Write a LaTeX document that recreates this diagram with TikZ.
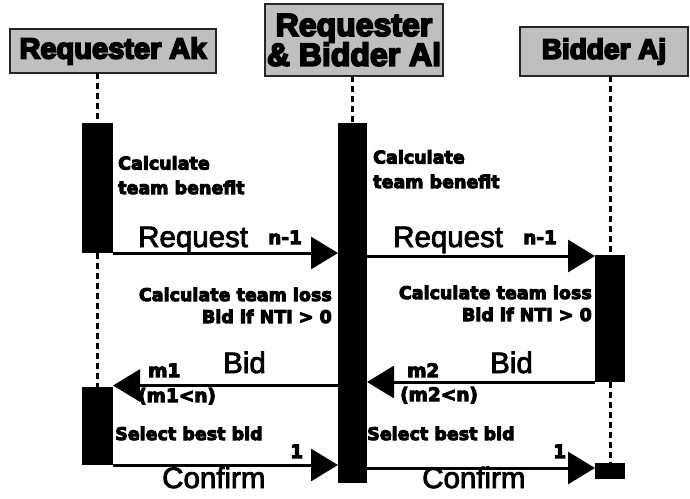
\documentclass[tikz,border=0pt]{standalone}
\usepackage{fontspec}
\setmainfont{Liberation Sans}
\newfontfamily\headfont{Liberation Sans Bold}
\newfontfamily\notefont{DejaVu Sans Bold}
\usetikzlibrary{arrows.meta}

% heavier glyphs: fill and stroke the text outlines with the given pen width
\newcommand\heavy[2]{\special{pdf:literal direct #1 w 2 Tr}#2\special{pdf:literal direct 0 Tr 0.4 w}}

\tikzset{
  head/.style={draw=black!85, line width=1.3pt, fill=black!25, inner sep=0pt,
    outer sep=0pt, align=center, font=\headfont},
  bar/.style={fill=black, draw=none, inner sep=0pt, outer sep=0pt, minimum width=30pt},
  life/.style={line width=3pt, dash pattern=on 6pt off 4pt},
  msg/.style={line width=3pt, -{Triangle[length=27pt,width=32pt]}},
  big/.style={font=\fontsize{29.5}{32}\selectfont, inner sep=0pt, anchor=base west},
  note/.style={font=\notefont\fontsize{17.5}{24.5}\selectfont, inner sep=0pt, anchor=base west, align=left},
  noter/.style={font=\notefont\fontsize{17.5}{22}\selectfont, inner sep=0pt, anchor=base east, align=right},
  tag/.style={font=\notefont\fontsize{18.5}{22}\selectfont, inner sep=0pt, anchor=base west},
}

\begin{document}
\begin{tikzpicture}[x=1pt, y=-1pt]
\useasboundingbox (0,0) rectangle (690,498);

% lifeline headers
\node[head, minimum width=206pt, minimum height=44pt] (akh) at (113,51)
  {\fontsize{29}{33}\selectfont \heavy{1.8}{Requester Ak}};
\node[head, minimum width=178pt, minimum height=72pt] (alh) at (354,40)
  {\fontsize{32}{33}\selectfont \heavy{1.8}{Requester}\\[-1pt]\fontsize{32}{33}\selectfont \heavy{1.8}{\& Bidder Al}};
\node[head, minimum width=168pt, minimum height=49pt] (ajh) at (604,51.5)
  {\fontsize{28}{33}\selectfont \heavy{1.8}{Bidder Aj}};

% activation bars
\node[bar, minimum width=31pt, minimum height=130pt] (ak1) at (97.5,188) {};
\node[bar, minimum width=31pt, minimum height=78pt] (ak2) at (97.5,426) {};
\node[bar, minimum width=29pt, minimum height=360pt] (al) at (352.5,303) {};
\node[bar, minimum height=127pt] (aj1) at (610,318.5) {};
\node[bar, minimum height=16pt] (aj2) at (610,471) {};

% dotted lifelines
\draw[life] (akh.south -| ak1.north) -- (ak1.north);
\draw[life] (ak1.south) -- (ak2.north);
\draw[life] (alh.south -| al.north) -- (al.north);
\draw[life] (ajh.south -| aj1.north) -- (aj1.north);
\draw[life] (aj1.south) -- (aj2.north);

% messages
\draw[msg] (ak1.south east) -- (al.west |- ak1.south east);
\draw[msg] ([yshift=-1pt]al.east |- aj1.north west) -- ([yshift=-1pt]aj1.north west);
\draw[msg] ([yshift=1.5pt]al.west |- ak2.north east) -- ([yshift=1.5pt]ak2.north east);
\draw[msg] (aj1.south west) -- (al.east |- aj1.south west);
\draw[msg] (ak2.south east) -- (al.west |- ak2.south east);
\draw[msg] ([yshift=-5pt]al.east |- aj2.north west) -- ([yshift=-5pt]aj2.north west);

% notes at the activation bars (anchored at the baseline of their last line)
\node[note] (cb1) at (118,194) {\heavy{1}{Calculate}\\\heavy{1}{team benefit}};
\node[note] (cb2) at (373,188) {\heavy{1}{Calculate}\\\heavy{1}{team benefit}};
\node[noter] (cl1) at (332,323) {\heavy{1}{Calculate team loss}\\\heavy{1}{Bid if NTI > 0}};
\node[noter] (cl2) at (592,321) {\heavy{1}{Calculate team loss}\\\heavy{1}{Bid if NTI > 0}};
\node[note] (sb1) at (115,440) {\heavy{1}{Select best bid}};
\node[note] (sb2) at (367,440) {\heavy{1}{Select best bid}};

% message labels
\node[big] (rq1) at (138,247) {\heavy{0.8}{Request}};
\node[tag] (n1) at (268,244) {\heavy{1}{n-1}};
\node[big] (rq2) at (393,247) {\heavy{0.8}{Request}};
\node[tag] (n2) at (523,244) {\heavy{1}{n-1}};

\node[big] (bd1) at (223,373) {\heavy{0.8}{Bid}};
\node[tag] (m1) at (148,377) {\heavy{1}{m1}};
\node[tag] (c1) at (138,402) {\heavy{1}{(m1<n)}};
\node[big] (bd2) at (490,373) {\heavy{0.8}{Bid}};
\node[tag] (m2) at (407,377) {\heavy{1}{m2}};
\node[tag] (c2) at (400,401) {\heavy{1}{(m2<n)}};

\node[tag] (o1) at (290,458) {\heavy{1}{1}};
\node[tag] (o2) at (553,458) {\heavy{1}{1}};
\node[big] (cf1) at (162,488) {\heavy{0.8}{Confirm}};
\node[big] (cf2) at (422,488) {\heavy{0.8}{Confirm}};
\end{tikzpicture}
\end{document}
